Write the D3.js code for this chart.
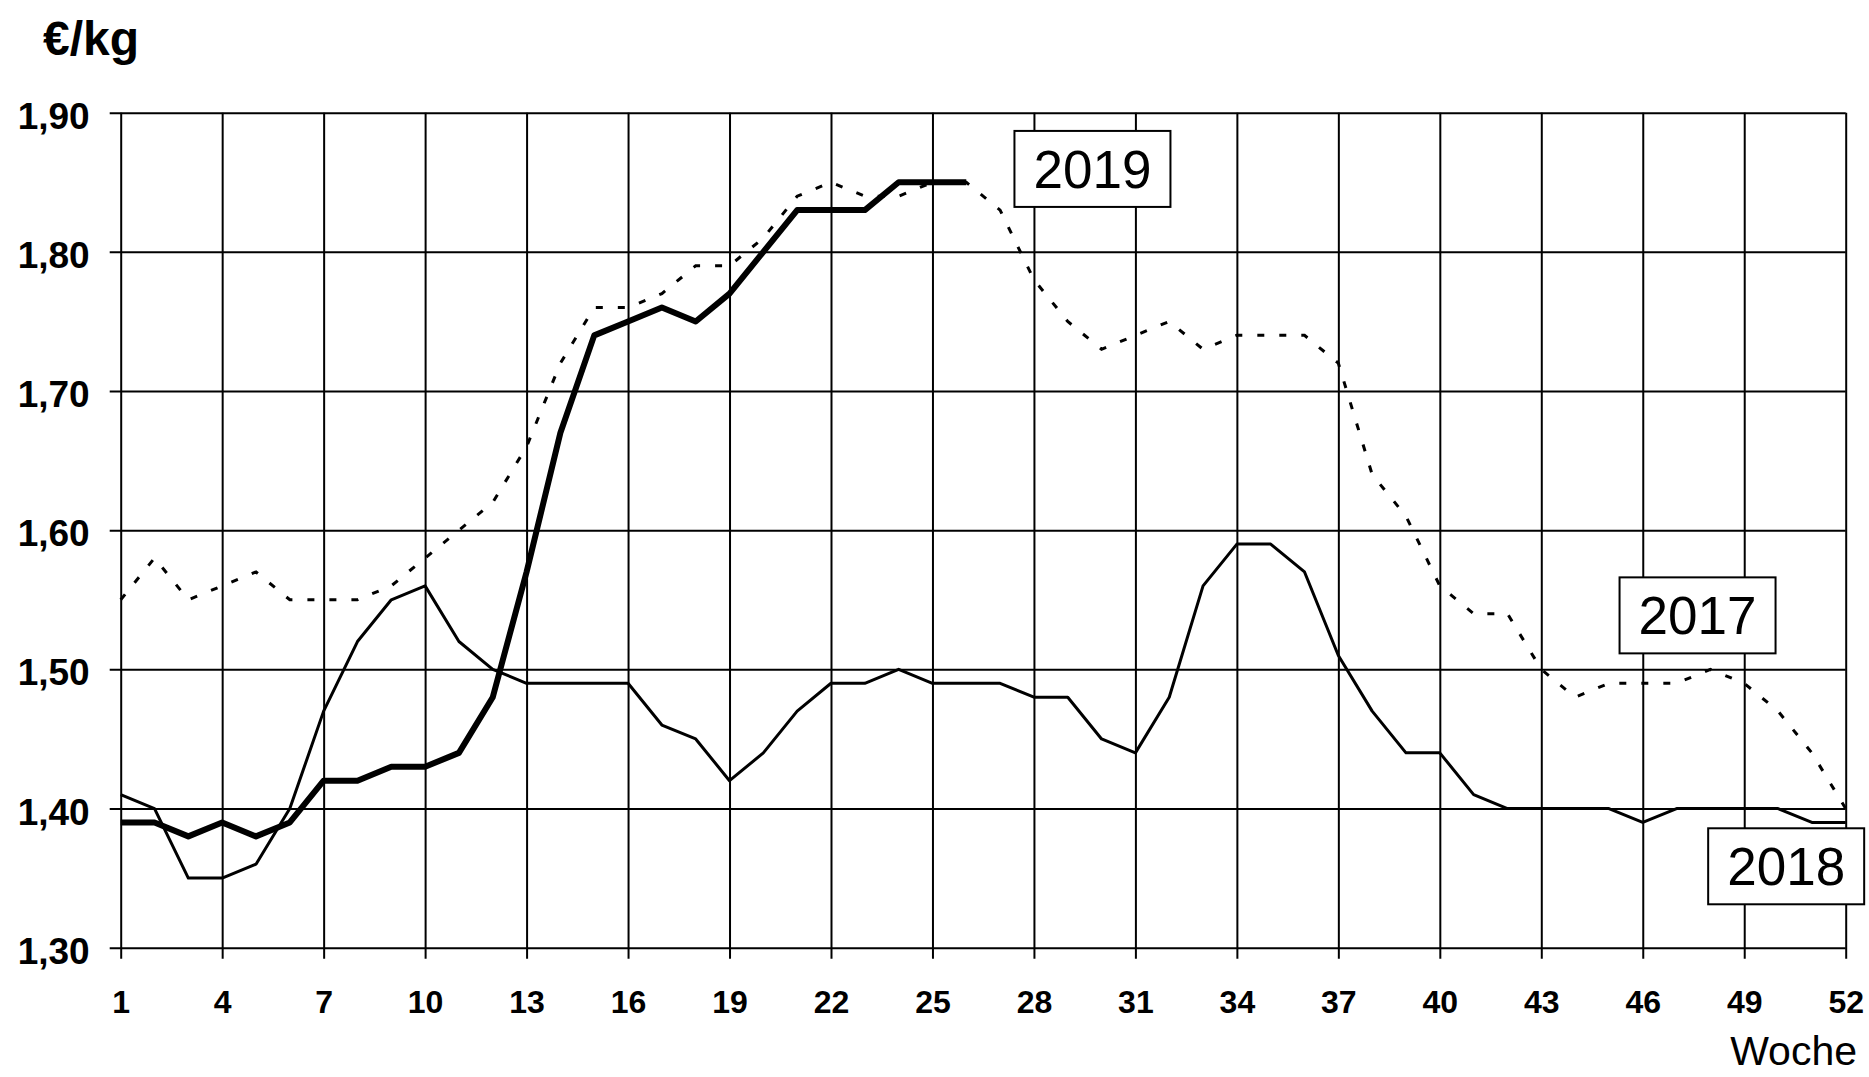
<!DOCTYPE html>
<html>
<head>
<meta charset="utf-8">
<script src="https://cdn.jsdelivr.net/npm/d3@7"></script>
<style>
  body { margin: 0; background: #fff; }
  svg { display: block; font-family: "Liberation Sans", Arial, sans-serif; }
</style>
</head>
<body>
<div id="chart"></div>
<script>
// weeks 1..52
var weeks = d3.range(1, 53);

var prices2017 = [1.55, 1.58, 1.55, 1.56, 1.57, 1.55, 1.55, 1.55, 1.56, 1.58,
                  1.60, 1.62, 1.66, 1.72, 1.76, 1.76, 1.77, 1.79, 1.79, 1.81,
                  1.84, 1.85, 1.84, 1.84, 1.85, 1.85, 1.83, 1.78, 1.75, 1.73,
                  1.74, 1.75, 1.73, 1.74, 1.74, 1.74, 1.72, 1.64, 1.61, 1.56,
                  1.54, 1.54, 1.50, 1.48, 1.49, 1.49, 1.49, 1.50, 1.49, 1.47,
                  1.44, 1.40];

var prices2018 = [1.41, 1.40, 1.35, 1.35, 1.36, 1.40, 1.47, 1.52, 1.55, 1.56,
                  1.52, 1.50, 1.49, 1.49, 1.49, 1.49, 1.46, 1.45, 1.42, 1.44,
                  1.47, 1.49, 1.49, 1.50, 1.49, 1.49, 1.49, 1.48, 1.48, 1.45,
                  1.44, 1.48, 1.56, 1.59, 1.59, 1.57, 1.51, 1.47, 1.44, 1.44,
                  1.41, 1.40, 1.40, 1.40, 1.40, 1.39, 1.40, 1.40, 1.40, 1.40,
                  1.39, 1.39];

// 2019 only up to week 26
var prices2019 = [1.39, 1.39, 1.38, 1.39, 1.38, 1.39, 1.42, 1.42, 1.43, 1.43,
                  1.44, 1.48, 1.57, 1.67, 1.74, 1.75, 1.76, 1.75, 1.77, 1.80,
                  1.83, 1.83, 1.83, 1.85, 1.85, 1.85];

var xTicks = d3.range(1, 53, 3);
var yTicks = [1.30, 1.40, 1.50, 1.60, 1.70, 1.80, 1.90];

var labelText = ['2019', '2017', '2018'];
var labelWeek = [29.73, 47.62, 50.24];
var labelValue = [1.8596, 1.5388, 1.3585];

var width = 1869, height = 1077;

var svg = d3.select('#chart')
  .append('svg')
  .attr('width', width)
  .attr('height', height);

var x_scale = d3.scaleLinear().domain([1, 52]).range([120.7, 1845.7]);
var y_scale = d3.scaleLinear().domain([1.30, 1.90]).range([947.7, 112.7]);

var fmt = function(d) { return d.toFixed(2).replace('.', ','); };

// vertical grid + ticks
var x_axis = d3.axisBottom(x_scale)
  .tickValues(xTicks)
  .tickSize(-(947.7 - 112.7))
  .tickSizeOuter(0)
  .tickPadding(0)
  .tickFormat(d3.format('d'));
var gx = svg.append('g')
  .attr('class', 'x-axis')
  .attr('transform', 'translate(0,' + y_scale(1.30) + ')')
  .call(x_axis);
gx.select('.domain').remove();
gx.selectAll('.tick line')
  .attr('y1', 11)
  .attr('stroke', '#000')
  .attr('stroke-width', 2);
gx.selectAll('.tick text')
  .attr('y', 65)
  .attr('dy', 0)
  .attr('fill', '#000')
  .style('font-size', '32px')
  .style('font-weight', 'bold');

// horizontal grid + ticks
var y_axis = d3.axisLeft(y_scale)
  .tickValues(yTicks)
  .tickSize(-(1845.7 - 120.7))
  .tickSizeOuter(0)
  .tickPadding(0)
  .tickFormat(fmt);
var gy = svg.append('g')
  .attr('class', 'y-axis')
  .attr('transform', 'translate(' + x_scale(1) + ',0)')
  .call(y_axis);
gy.select('.domain').remove();
gy.selectAll('.tick line')
  .attr('x1', -11)
  .attr('stroke', '#000')
  .attr('stroke-width', 2);
gy.selectAll('.tick text')
  .attr('x', -31)
  .attr('dy', 15.5)
  .attr('fill', '#000')
  .style('font-size', '37px')
  .style('font-weight', 'bold');

// lines
var line = d3.line()
  .x(function(d, i) { return x_scale(weeks[i]); })
  .y(function(d) { return y_scale(d); });

svg.append('path')
  .datum(prices2017)
  .attr('d', line)
  .attr('fill', 'none')
  .attr('stroke', '#000')
  .attr('stroke-width', 3)
  .attr('stroke-dasharray', '7,15');

svg.append('path')
  .datum(prices2018)
  .attr('d', line)
  .attr('fill', 'none')
  .attr('stroke', '#000')
  .attr('stroke-width', 3)
  .attr('stroke-linejoin', 'round');

svg.append('path')
  .datum(prices2019)
  .attr('d', line)
  .attr('fill', 'none')
  .attr('stroke', '#000')
  .attr('stroke-width', 6)
  .attr('stroke-linejoin', 'round');

// year labels in boxes
var boxW = 156, boxH = 76;
var labels = svg.selectAll('.year-label')
  .data(labelText)
  .enter()
  .append('g')
  .attr('class', 'year-label')
  .attr('transform', function(d, i) {
    return 'translate(' + x_scale(labelWeek[i]) + ',' + y_scale(labelValue[i]) + ')';
  });
labels.append('rect')
  .attr('x', -boxW / 2)
  .attr('y', -boxH / 2)
  .attr('width', boxW)
  .attr('height', boxH)
  .attr('fill', '#fff')
  .attr('stroke', '#000')
  .attr('stroke-width', 2);
labels.append('text')
  .attr('text-anchor', 'middle')
  .attr('y', 19)
  .style('font-size', '53px')
  .text(function(d) { return d; });

// unit and axis title
svg.append('text')
  .attr('x', 43)
  .attr('y', 55)
  .style('font-size', '48px')
  .style('font-weight', 'bold')
  .text('€/kg');

svg.append('text')
  .attr('x', 1857)
  .attr('y', 1065)
  .attr('text-anchor', 'end')
  .style('font-size', '41px')
  .text('Woche');
</script>
</body>
</html>
